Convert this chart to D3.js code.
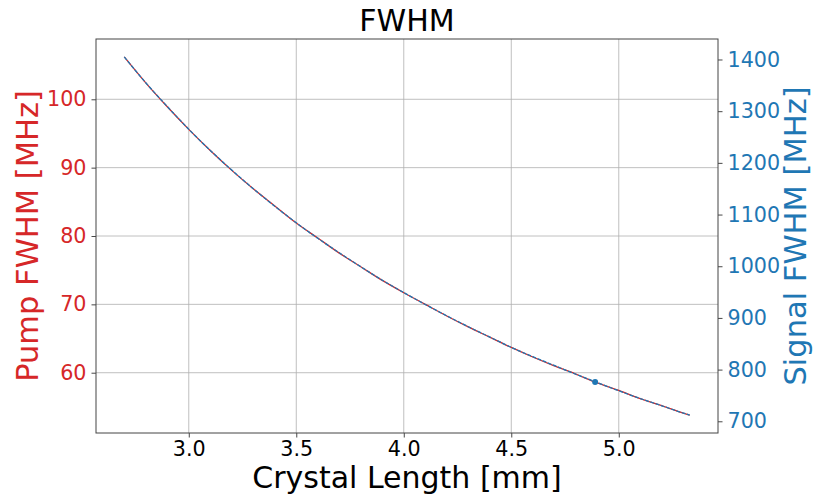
<!DOCTYPE html>
<html>
<head>
<script src="https://d3js.org/d3.v7.min.js"></script>
<style>
  body { margin: 0; background: #fff; }
  text { font-family: "DejaVu Sans", sans-serif; }
</style>
</head>
<body>
<script>
// crystal length [mm]
var lengths = [2.7, 2.8, 2.9, 3.0, 3.1, 3.2, 3.3, 3.4, 3.5, 3.6, 3.7, 3.8, 3.9, 4.0,
               4.1, 4.2, 4.3, 4.4, 4.5, 4.6, 4.7, 4.8, 4.9, 5.0, 5.1, 5.2, 5.3, 5.33];
// pump FWHM [MHz] (left axis)
var pumpFwhm = [106.2, 102.4, 98.9, 95.6, 92.5, 89.6, 86.9, 84.4, 81.9, 79.7, 77.5, 75.5, 73.5, 71.7,
                70.0, 68.3, 66.7, 65.2, 63.7, 62.3, 61.0, 59.8, 58.5, 57.4, 56.2, 55.2, 54.1, 53.8];
// signal FWHM [MHz] (right axis)
var signalFwhm = [1405, 1355, 1309, 1265, 1224, 1186, 1150, 1116, 1084, 1054, 1026, 999, 973, 949,
                  926, 904, 883, 863, 843, 825, 808, 791, 775, 759, 744, 730, 716, 712];
// marked operating point
var marker = {length: 4.89, signal: 776};

var xTicks = [3.0, 3.5, 4.0, 4.5, 5.0];
var pumpTicks = [60, 70, 80, 90, 100];
var signalTicks = [700, 800, 900, 1000, 1100, 1200, 1300, 1400];

var width = 814, height = 499;
var plotL = 96, plotR = 718, plotT = 39, plotB = 433;
var red = "#d62728", blue = "#1f77b4";

// 5% padding like matplotlib
function padded(vals) {
    var lo = d3.min(vals), hi = d3.max(vals), p = (hi - lo) * 0.05;
    return [lo - p, hi + p];
}

var x = d3.scaleLinear().domain(padded(lengths)).range([plotL, plotR]);
var yPump = d3.scaleLinear().domain(padded(pumpFwhm)).range([plotB, plotT]);
var ySig = d3.scaleLinear().domain(padded(signalFwhm)).range([plotB, plotT]);

var svg = d3.select("body").append("svg")
    .attr("width", width)
    .attr("height", height);

// grid
svg.append("g")
    .selectAll("line")
    .data(xTicks)
    .enter().append("line")
    .attr("x1", function(d) { return x(d); })
    .attr("x2", function(d) { return x(d); })
    .attr("y1", plotT).attr("y2", plotB)
    .attr("stroke", "#b0b0b0").attr("stroke-width", 0.8);
svg.append("g")
    .selectAll("line")
    .data(pumpTicks)
    .enter().append("line")
    .attr("x1", plotL).attr("x2", plotR)
    .attr("y1", function(d) { return yPump(d); })
    .attr("y2", function(d) { return yPump(d); })
    .attr("stroke", "#b0b0b0").attr("stroke-width", 0.8);

// curves
var pts = lengths.map(function(l, i) { return {l: l, p: pumpFwhm[i], s: signalFwhm[i]}; });

svg.append("path")
    .datum(pts)
    .attr("fill", "none")
    .attr("stroke", red)
    .attr("stroke-width", 1.3)
    .attr("d", d3.line().curve(d3.curveMonotoneX)
        .x(function(d) { return x(d.l); })
        .y(function(d) { return yPump(d.p); }));

svg.append("path")
    .datum(pts)
    .attr("fill", "none")
    .attr("stroke", blue)
    .attr("stroke-width", 1.3)
    .attr("stroke-dasharray", "4,1.5")
    .attr("d", d3.line().curve(d3.curveMonotoneX)
        .x(function(d) { return x(d.l); })
        .y(function(d) { return ySig(d.s); }));

svg.append("circle")
    .attr("cx", x(marker.length))
    .attr("cy", ySig(marker.signal))
    .attr("r", 3)
    .attr("fill", blue);

// axes
function styleAxis(g, color) {
    g.attr("font-size", 20.7).attr("font-family", "DejaVu Sans, sans-serif");
    g.select(".domain").remove();
    g.selectAll(".tick line").attr("stroke", "#333").attr("stroke-width", 0.9);
    g.selectAll(".tick text").attr("fill", color);
}

var xAxis = svg.append("g")
    .attr("transform", "translate(0," + plotB + ")")
    .call(d3.axisBottom(x).tickValues(xTicks).tickFormat(d3.format(".1f")).tickSize(4.5).tickPadding(4));
styleAxis(xAxis, "#000");

var lAxis = svg.append("g")
    .attr("transform", "translate(" + plotL + ",0)")
    .call(d3.axisLeft(yPump).tickValues(pumpTicks).tickFormat(d3.format("d")).tickSize(4.5).tickPadding(5));
styleAxis(lAxis, red);

var rAxis = svg.append("g")
    .attr("transform", "translate(" + plotR + ",0)")
    .call(d3.axisRight(ySig).tickValues(signalTicks).tickFormat(d3.format("d")).tickSize(4.5).tickPadding(5));
styleAxis(rAxis, blue);

// frame
svg.append("rect")
    .attr("x", plotL).attr("y", plotT)
    .attr("width", plotR - plotL).attr("height", plotB - plotT)
    .attr("fill", "none")
    .attr("stroke", "#444")
    .attr("stroke-width", 1);

// titles
svg.append("text")
    .attr("x", (plotL + plotR) / 2).attr("y", 31)
    .attr("text-anchor", "middle")
    .style("font-size", "30px")
    .text("FWHM");

svg.append("text")
    .attr("x", (plotL + plotR) / 2).attr("y", 488)
    .attr("text-anchor", "middle")
    .style("font-size", "30px")
    .text("Crystal Length [mm]");

svg.append("text")
    .attr("transform", "translate(38," + ((plotT + plotB) / 2) + ") rotate(-90)")
    .attr("text-anchor", "middle")
    .attr("fill", red)
    .style("font-size", "30.5px")
    .text("Pump FWHM [MHz]");

svg.append("text")
    .attr("transform", "translate(806," + ((plotT + plotB) / 2) + ") rotate(-90)")
    .attr("text-anchor", "middle")
    .attr("fill", blue)
    .style("font-size", "30.5px")
    .text("Signal FWHM [MHz]");
</script>
</body>
</html>
